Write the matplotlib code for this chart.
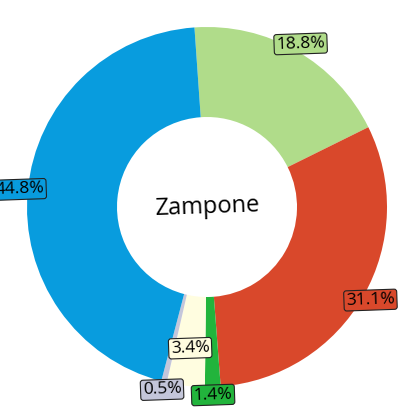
import numpy as np
import matplotlib.pyplot as plt

plt.rcParams['font.family'] = ['Open Sans', 'DejaVu Sans']

# Slice shares (percent), clockwise from the top
shares = [18.8, 31.1, 1.4, 3.4, 0.5, 44.8]
colors = ['#b0dc8a', '#d9482b', '#22b43c', '#fffde0', '#c4c6da', '#089cde']
center_label = 'Zampone'

fig = plt.figure(figsize=(4.15, 4.15), dpi=100)
ax = fig.add_axes([0, 0, 1, 1])

wedges, _ = ax.pie(shares, colors=colors, startangle=94, counterclock=False,
                   radius=1.0, wedgeprops=dict(width=0.5, linewidth=0))

# label distance per slice (the 3.4% one sits inside the ring)
label_r = [1.045, 1.045, 1.045, 0.79, 1.045, 1.045]
for w, val, c, r in zip(wedges, shares, colors, label_r):
    ang = np.deg2rad((w.theta1 + w.theta2) / 2)
    ax.text(r * np.cos(ang), r * np.sin(ang), f'{val}%', ha='center', va='center',
            fontsize=12.5, rotation=2,
            bbox=dict(boxstyle='round,pad=0.12,rounding_size=0.15', fc=c, ec='#222222', lw=0.8))

ax.text(0.0, 0.0, center_label, ha='center', va='center', fontsize=17, rotation=2)

ax.set_xlim(-207 / 180, 208 / 180)
ax.set_ylim(-208 / 180, 207 / 180)
ax.set_aspect('equal')
ax.axis('off')

fig.savefig('out.png', dpi=100)
